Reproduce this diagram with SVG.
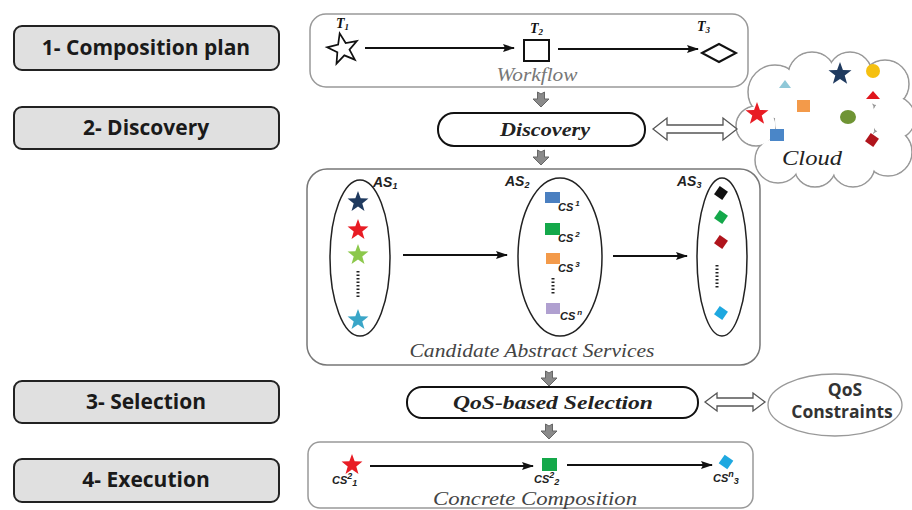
<svg xmlns="http://www.w3.org/2000/svg" xmlns:xlink="http://www.w3.org/1999/xlink" width="912" height="510" viewBox="0 0 912 510">
<defs>
<style>
.step{fill:#e0e0e0;stroke:#222;stroke-width:2}
.steptxt{font-family:"Open Sans","Liberation Sans",sans-serif;font-weight:700;font-size:21px;fill:#1a1a1a;text-anchor:middle}
.panel{fill:#fff;stroke:#999;stroke-width:1.5}
.pill{fill:#fff;stroke:#111;stroke-width:2}
.serif{font-family:"Liberation Serif","Times New Roman","DejaVu Serif","Noto Serif",serif}
.pilltxt{font-weight:700;font-style:italic;font-size:19px;fill:#222;text-anchor:middle}
.cap{font-style:italic;font-size:19px;fill:#555;text-anchor:middle}
.tlab{font-weight:700;font-style:italic;font-size:14px;fill:#111}
.aslab{font-family:"Liberation Sans",sans-serif;font-weight:700;font-style:italic;font-size:14px;fill:#222}
.cslab{font-family:"Liberation Sans",sans-serif;font-weight:700;font-style:italic;font-size:11px;fill:#222}
.conn{stroke:#111;stroke-width:2;fill:none}
.ell{fill:#fff;stroke:#222;stroke-width:1.5}
.garrow{fill:#8a8a8a;stroke:#666;stroke-width:1}
.dbl{fill:#fff;stroke:#555;stroke-width:1.3}
.dots{stroke:#222;stroke-width:3;stroke-dasharray:1.5 2}
.qos{font-family:"Open Sans","Liberation Sans",sans-serif;font-weight:700;font-size:17.5px;fill:#333;text-anchor:middle}
</style>
<marker id="ah" viewBox="0 0 12 8" refX="11" refY="4" markerWidth="12" markerHeight="8" orient="auto" markerUnits="userSpaceOnUse">
<path d="M0,0 L12,4 L0,8 L2,4 Z" fill="#111"/>
</marker>
<path id="star" d="M0,-11 L2.65,-3.64 L10.46,-3.4 L4.28,1.39 L6.47,8.9 L0,4.5 L-6.47,8.9 L-4.28,1.39 L-10.46,-3.4 L-2.65,-3.64 Z"/>
<path id="garr" d="M-3.5,0 L0,2 L3.5,0 L3.5,7 L8,7 L0,15 L-8,7 L-3.5,7 Z"/>
<rect id="dia" x="-5" y="-5" width="10" height="10" transform="rotate(35)"/>
</defs>

<!-- Step boxes -->
<g id="step1"><rect class="step" x="14" y="26" width="265" height="44" rx="8"/><text class="steptxt" x="146" y="55">1- Composition plan</text></g>
<g id="step2"><rect class="step" x="14" y="107" width="265" height="42" rx="8"/><text class="steptxt" x="146" y="135">2- Discovery</text></g>
<g id="step3"><rect class="step" x="14" y="381" width="265" height="42" rx="8"/><text class="steptxt" x="146" y="409">3- Selection</text></g>
<g id="step4"><rect class="step" x="14" y="459" width="265" height="43" rx="8"/><text class="steptxt" x="146" y="487">4- Execution</text></g>

<!-- Workflow panel -->
<g id="workflow">
<rect class="panel" x="310" y="14" width="438" height="73" rx="16"/>
<use href="#star" transform="translate(343,49) scale(1.45) rotate(-12)" fill="#fff" stroke="#111" stroke-width="1.2"/>
<text class="serif tlab" x="336" y="28">T<tspan font-size="9" dy="2">1</tspan></text>
<rect x="524" y="40" width="25" height="21" fill="#fff" stroke="#111" stroke-width="2"/>
<text class="serif tlab" x="530" y="33">T<tspan font-size="9" dy="2">2</tspan></text>
<path d="M702,53 L719,44 L736,53 L719,62 Z" fill="#fff" stroke="#111" stroke-width="2"/>
<text class="serif tlab" x="697" y="31">T<tspan font-size="9" dy="2">3</tspan></text>
<text class="serif cap" x="537" y="81" textLength="81" lengthAdjust="spacingAndGlyphs" style="fill:#777;font-size:18px">Workflow</text>
</g>

<!-- Discovery pill -->
<g id="discovery">
<rect class="pill" x="438" y="113" width="207" height="33" rx="16"/>
<text class="serif pilltxt" x="545" y="136" textLength="90" lengthAdjust="spacingAndGlyphs">Discovery</text>
</g>

<!-- Cloud -->
<g id="cloud">
<g fill="#fff" stroke="#999" stroke-width="1.5">
<circle cx="775" cy="92" r="27"/><circle cx="812" cy="76" r="24"/><circle cx="850" cy="74" r="22"/><circle cx="885" cy="84" r="24"/>
<circle cx="893" cy="118" r="22"/><circle cx="888" cy="152" r="24"/><circle cx="853" cy="165" r="22"/><circle cx="815" cy="166" r="21"/>
<circle cx="778" cy="160" r="23"/><circle cx="756" cy="126" r="20"/>
</g>
<g fill="#fff">
<circle cx="775" cy="92" r="26"/><circle cx="812" cy="76" r="23"/><circle cx="850" cy="74" r="21"/><circle cx="885" cy="84" r="23"/>
<circle cx="893" cy="118" r="21"/><circle cx="888" cy="152" r="23"/><circle cx="853" cy="165" r="21"/><circle cx="815" cy="166" r="20"/>
<circle cx="778" cy="160" r="22"/><circle cx="756" cy="126" r="19"/><circle cx="825" cy="120" r="50"/>
</g>
<path d="M779,88 L785,80 L791,88 Z" fill="#8fc8d8"/>
<use href="#star" transform="translate(840,74) scale(1.1)" fill="#1f3a5f"/>
<circle cx="873" cy="71" r="7" fill="#f5c010"/>
<path d="M866,99 L873,91 L880,99 Z" fill="#e0161d"/>
<rect x="797" y="100" width="13" height="12" fill="#f39a4a"/>
<use href="#star" transform="translate(757,114) scale(1.1)" fill="#e81c24"/>
<ellipse cx="848" cy="117" rx="8" ry="7" fill="#6f9434"/>
<rect x="770" y="129" width="14" height="12" fill="#4a86c8"/>
<use href="#dia" transform="translate(872,140)" fill="#b0141c"/>
<text class="serif" x="812" y="165" textLength="60" lengthAdjust="spacingAndGlyphs" style="font-style:italic;font-size:22px;fill:#222;text-anchor:middle">Cloud</text>
</g>

<!-- Candidate abstract services -->
<g id="candidates">
<rect x="307" y="169" width="453" height="196" rx="20" fill="#fff" stroke="#777" stroke-width="1.5"/>
<text class="serif cap" x="532" y="357" textLength="245" lengthAdjust="spacingAndGlyphs" style="fill:#444">Candidate Abstract Services</text>
</g>
<g id="as1">
<ellipse class="ell" cx="360" cy="258" rx="30" ry="78"/>
<text class="aslab" x="373" y="187">AS<tspan font-size="9" dy="2">1</tspan></text>
<use href="#star" transform="translate(358,202)" fill="#1f3a5f"/>
<use href="#star" transform="translate(358,230)" fill="#e81c24"/>
<use href="#star" transform="translate(358,255)" fill="#8cc84b"/>
<line class="dots" x1="358" y1="271" x2="358" y2="297"/>
<use href="#star" transform="translate(358,320)" fill="#3aa6c8"/>
</g>
<g id="as2">
<ellipse class="ell" cx="560" cy="257" rx="42" ry="79"/>
<text class="aslab" x="505" y="186">AS<tspan font-size="9" dy="2">2</tspan></text>
<rect x="545" y="192" width="15" height="11" fill="#4a7fc0"/>
<text class="cslab" x="558" y="211">CS<tspan font-size="8" dx="2" dy="-5">1</tspan></text>
<rect x="545" y="223" width="15" height="12" fill="#14a84a"/>
<text class="cslab" x="558" y="242">CS<tspan font-size="8" dx="2" dy="-5">2</tspan></text>
<rect x="546" y="253" width="14" height="11" fill="#f39a4a"/>
<text class="cslab" x="558" y="272">CS<tspan font-size="8" dx="2" dy="-5">3</tspan></text>
<line class="dots" x1="553" y1="278" x2="553" y2="294"/>
<rect x="546" y="303" width="14" height="11" fill="#b0a0d0"/>
<text class="cslab" x="560" y="320">CS<tspan font-size="8" dx="2" dy="-5">n</tspan></text>
</g>
<g id="as3">
<ellipse class="ell" cx="722" cy="257" rx="25" ry="79"/>
<text class="aslab" x="677" y="186">AS<tspan font-size="9" dy="2">3</tspan></text>
<use href="#dia" transform="translate(721,193)" fill="#111"/>
<use href="#dia" transform="translate(721,217)" fill="#14a84a"/>
<use href="#dia" transform="translate(721,242)" fill="#b0141c"/>
<line class="dots" x1="717" y1="265" x2="717" y2="289"/>
<use href="#dia" transform="translate(721,313)" fill="#1ea8e0"/>
</g>

<!-- QoS-based selection -->
<g id="selection">
<rect class="pill" x="407" y="387" width="291" height="31" rx="15"/>
<text class="serif pilltxt" x="553" y="409" textLength="200" lengthAdjust="spacingAndGlyphs">QoS-based Selection</text>
</g>
<g id="qosconstraints">
<ellipse cx="835" cy="405" rx="67" ry="31" fill="#fff" stroke="#999" stroke-width="1.3"/>
<text class="qos" x="845" y="396">QoS</text>
<text class="qos" x="842" y="418">Constraints</text>
</g>

<!-- Concrete composition -->
<g id="concrete">
<rect class="panel" x="308" y="442" width="445" height="66" rx="12"/>
<use href="#star" transform="translate(352,465)" fill="#e81c24"/>
<text class="cslab" x="332" y="484" font-size="13">CS<tspan font-size="9" dy="-5">2</tspan><tspan font-size="9" dy="7">1</tspan></text>
<rect x="542" y="458" width="15" height="13" fill="#14a84a"/>
<text class="cslab" x="534" y="483" font-size="13">CS<tspan font-size="9" dy="-5">2</tspan><tspan font-size="9" dy="7">2</tspan></text>
<use href="#dia" transform="translate(726,462) scale(1.05)" fill="#1ea8e0"/>
<text class="cslab" x="713" y="482" font-size="13">CS<tspan font-size="9" dy="-5">n</tspan><tspan font-size="9" dy="7">3</tspan></text>
<text class="serif cap" x="535" y="505" textLength="204" lengthAdjust="spacingAndGlyphs" style="fill:#444">Concrete Composition</text>
</g>

<!-- Connectors -->
<g id="connectors">
<line class="conn" x1="365" y1="48" x2="514" y2="48" marker-end="url(#ah)"/>
<line class="conn" x1="558" y1="49" x2="698" y2="49" marker-end="url(#ah)"/>
<line class="conn" x1="403" y1="255" x2="507" y2="255" marker-end="url(#ah)"/>
<line class="conn" x1="613" y1="256" x2="687" y2="256" marker-end="url(#ah)"/>
<line class="conn" x1="370" y1="466" x2="533" y2="466" marker-end="url(#ah)"/>
<line class="conn" x1="567" y1="465" x2="712" y2="465" marker-end="url(#ah)"/>
<use href="#garr" class="garrow" transform="translate(541,92)"/>
<use href="#garr" class="garrow" transform="translate(541,150)"/>
<use href="#garr" class="garrow" transform="translate(549,371)"/>
<use href="#garr" class="garrow" transform="translate(549,424)"/>
<path class="dbl" d="M653,129 L667,118 L667,125 L723,125 L723,118 L737,129 L723,140 L723,133 L667,133 L667,140 Z"/>
<path class="dbl" d="M705,402 L717,393 L717,398 L753,398 L753,393 L765,402 L753,411 L753,406 L717,406 L717,411 Z"/>
</g>
</svg>
